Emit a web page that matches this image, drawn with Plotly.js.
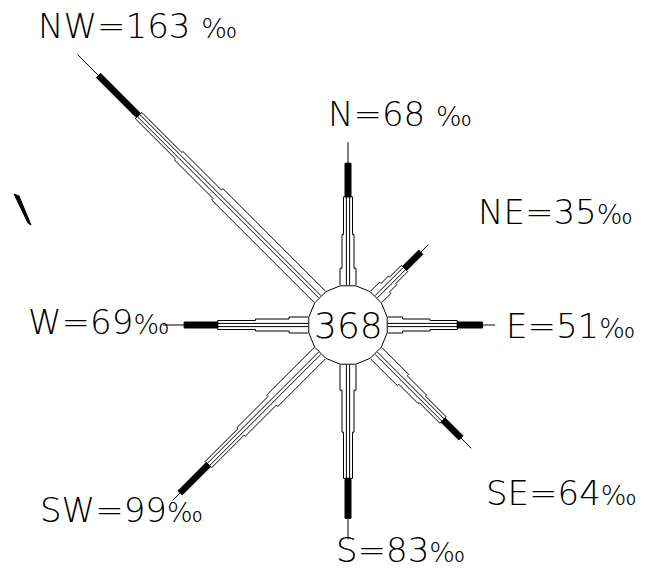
<!DOCTYPE html>
<html>
<head>
<meta charset="utf-8">
<script src="https://cdn.plot.ly/plotly-3.0.1.min.js"></script>
<style>html,body{margin:0;padding:0;background:#fff;}#chart{width:645px;height:570px;}</style>
</head>
<body>
<div id="chart"></div>
<script>
// ---- data (‰) ----
const directions = ['N', 'NE', 'E', 'SE', 'S', 'SW', 'W', 'NW'];
const bearings = [0, 45, 90, 135, 180, 225, 270, 315];
const totals = [68, 35, 51, 64, 83, 99, 69, 163];
// speed classes along each arm, from centre outward
const class1 = [8, 6, 7, 18, 12, 32, 9, 69];
const class2 = [16, 5, 13, 13, 20, 21, 16, 26];
const class3 = [18, 8, 13, 14, 22, 22, 18, 27];
const class4 = [16, 11, 12, 12, 19, 19, 16, 27];
const class5 = [10, 5, 6, 7, 10, 5, 10, 14];
const calm = 368;

// ---- styling ----
const W = 645, H = 570;
const pxPerUnit = 2.1;            // scale: pixels per ‰
const cx = 348, cy = 325;         // centre in pixels
const hubR = 40 / pxPerUnit;      // hub radius in ‰ units
const halfW = [8, 6, 4.5, 3].map(v => v / pxPerUnit);
const innerHalf = 1.6 / pxPerUnit;
const FONT = {family: 'DejaVu Sans, sans-serif', size: 34, color: '#000', weight: 200};

const traces = [];
function pt(theta, r, h) {
  const t = theta * Math.PI / 180;
  return [r * Math.sin(t) + h * Math.cos(t), r * Math.cos(t) - h * Math.sin(t)];
}
function poly(points, fill, lineOn, closed) {
  const xs = points.map(p => p[0]), ys = points.map(p => p[1]);
  if (closed) { xs.push(xs[0]); ys.push(ys[0]); }
  const tr = {type: 'scatter', mode: 'lines', x: xs, y: ys, hoverinfo: 'skip', showlegend: false,
    line: {color: '#000', width: lineOn ? 1 : 0}};
  if (fill) { tr.fill = 'toself'; tr.fillcolor = fill; }
  traces.push(tr);
}

// hub
(function () {
  const n = 16, pts = [];
  for (let i = 0; i < n; i++) {
    const a = (i / n) * 2 * Math.PI + Math.PI / 16;
    pts.push([hubR * Math.cos(a), hubR * Math.sin(a)]);
  }
  poly(pts, '#fff', true, true);
})();

directions.forEach((d, i) => {
  const th = bearings[i];
  const segs = [class1[i], class2[i], class3[i], class4[i], class5[i]];
  let r = hubR;
  const b = [r];
  segs.forEach(s => { r += s; b.push(r); });
  const left = [pt(th, b[0], halfW[0]), pt(th, b[1], halfW[0]), pt(th, b[1], halfW[1]),
    pt(th, b[2], halfW[1]), pt(th, b[2], halfW[2]), pt(th, b[3], halfW[2])];
  const right = [pt(th, b[3], -halfW[2]), pt(th, b[2], -halfW[2]), pt(th, b[2], -halfW[1]),
    pt(th, b[1], -halfW[1]), pt(th, b[1], -halfW[0]), pt(th, b[0], -halfW[0])];
  poly(left.concat(right), '#fff', false, true);
  poly(left.concat(right), null, true, false);
  poly([pt(th, b[0], innerHalf), pt(th, b[3], innerHalf)], null, true, false);
  poly([pt(th, b[0], -innerHalf), pt(th, b[3], -innerHalf)], null, true, false);
  poly([pt(th, b[3], halfW[3]), pt(th, b[4], halfW[3]), pt(th, b[4], -halfW[3]), pt(th, b[3], -halfW[3])], '#000', true, true);
  poly([pt(th, b[4], 0), pt(th, b[5], 0)], null, true, false);
});

const labelPos = {N: [400, 114], NE: [555, 212], E: [570, 326], SE: [561, 493],
  S: [401, 550], SW: [121, 510], W: [99, 322], NW: [137, 26]};
const annotations = directions.map((d, i) => ({
  xref: 'paper', yref: 'paper', x: labelPos[d][0] / W, y: 1 - labelPos[d][1] / H,
  xanchor: 'center', yanchor: 'middle', showarrow: false,
  text: d + '=' + totals[i] + (d === 'NW' || d === 'N' ? ' ' : '') + '<span style="font-size:27px">‰</span>',
  font: FONT
}));
annotations.push({xref: 'x', yref: 'y', x: 0, y: 0, xanchor: 'center', yanchor: 'middle',
  showarrow: false, text: String(calm), font: Object.assign({}, FONT, {size: 36})});

const layout = {
  width: W, height: H, margin: {l: 0, r: 0, t: 0, b: 0},
  paper_bgcolor: '#fff', plot_bgcolor: '#fff', showlegend: false,
  xaxis: {range: [-cx / pxPerUnit, (W - cx) / pxPerUnit], visible: false, fixedrange: true},
  yaxis: {range: [-(H - cy) / pxPerUnit, cy / pxPerUnit], visible: false, fixedrange: true},
  annotations: annotations,
  shapes: [{type: 'path', xref: 'paper', yref: 'paper', fillcolor: '#000', line: {color: '#000', width: 1},
    path: 'M' + (14/W) + ',' + (1-194/H) + ' L' + (19/W) + ',' + (1-196/H) + ' L' + (31/W) + ',' + (1-225/H) + ' L' + (28/W) + ',' + (1-223/H) + ' Z'}]
};
Plotly.newPlot('chart', traces, layout, {staticPlot: true, displayModeBar: false});
</script>
</body>
</html>
